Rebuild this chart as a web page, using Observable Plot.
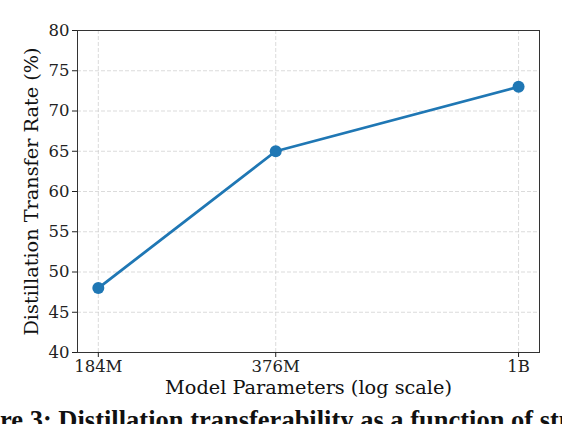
<!DOCTYPE html>
<html><head><meta charset="utf-8">
<script src="https://cdn.jsdelivr.net/npm/d3@7"></script>
<script src="https://cdn.jsdelivr.net/npm/@observablehq/plot@0.6"></script>
<style>
body{margin:0;background:#fff;overflow:hidden;width:562px;height:424px;position:relative}
svg text{font-family:"DejaVu Serif",serif !important}
#cap{position:absolute;left:0;top:405px;white-space:nowrap;font-family:"Liberation Serif",serif;font-weight:bold;font-size:26.5px;color:#111}
</style>
</head><body>
<div id="chart"></div>
<div id="cap"><span id="pre">Figu</span>re 3: Distillation transferability as a function of student model size</div>
<script>
const params = [184, 376, 1000];
const tickLabels = ["184M", "376M", "1B"];
const rates = [48, 65, 73];
const yTicks = [40, 45, 50, 55, 60, 65, 70, 75, 80];
const data = params.map((p, i) => ({p, r: rates[i]}));
const chart = Plot.plot({
  width: 562, height: 400,
  marginTop: 30, marginLeft: 77, marginRight: 23, marginBottom: 48,
  style: {fontFamily: "DejaVu Serif", fontSize: "16px", color: "#222", background: "#fff"},
  x: {type: "log", domain: [169.2, 1088]},
  y: {domain: [40, 80]},
  marks: [
    Plot.gridX(params, {stroke: "#ccc", strokeOpacity: 0.7, strokeDasharray: "4,2"}),
    Plot.gridY(yTicks, {stroke: "#ccc", strokeOpacity: 0.7, strokeDasharray: "4,2"}),
    Plot.frame({stroke: "#333", strokeWidth: 1}),
    Plot.axisX(params, {tickFormat: d => tickLabels[params.indexOf(d)], tickSize: 5, tickPadding: 3, fontSize: 16.5, label: null}),
    Plot.axisY(yTicks, {tickSize: 5, tickPadding: 3, fontSize: 16.5, label: null}),
    Plot.text(["Model Parameters (log scale)"], {frameAnchor: "bottom", dy: 41, fontSize: 19.3, fill: "#111"}),
    Plot.text(["Distillation Transfer Rate (%)"], {frameAnchor: "left", textAnchor: "middle", dx: -46, rotate: -90, fontSize: 19.3, fill: "#111"}),
    Plot.line(data, {x: "p", y: "r", stroke: "#1f77b4", strokeWidth: 2.8}),
    Plot.dot(data, {x: "p", y: "r", fill: "#1f77b4", r: 6})
  ]
});
document.getElementById("chart").appendChild(chart);
const pre = document.getElementById("pre");
document.getElementById("cap").style.left = (-pre.getBoundingClientRect().width) + "px";
</script>
</body></html>
